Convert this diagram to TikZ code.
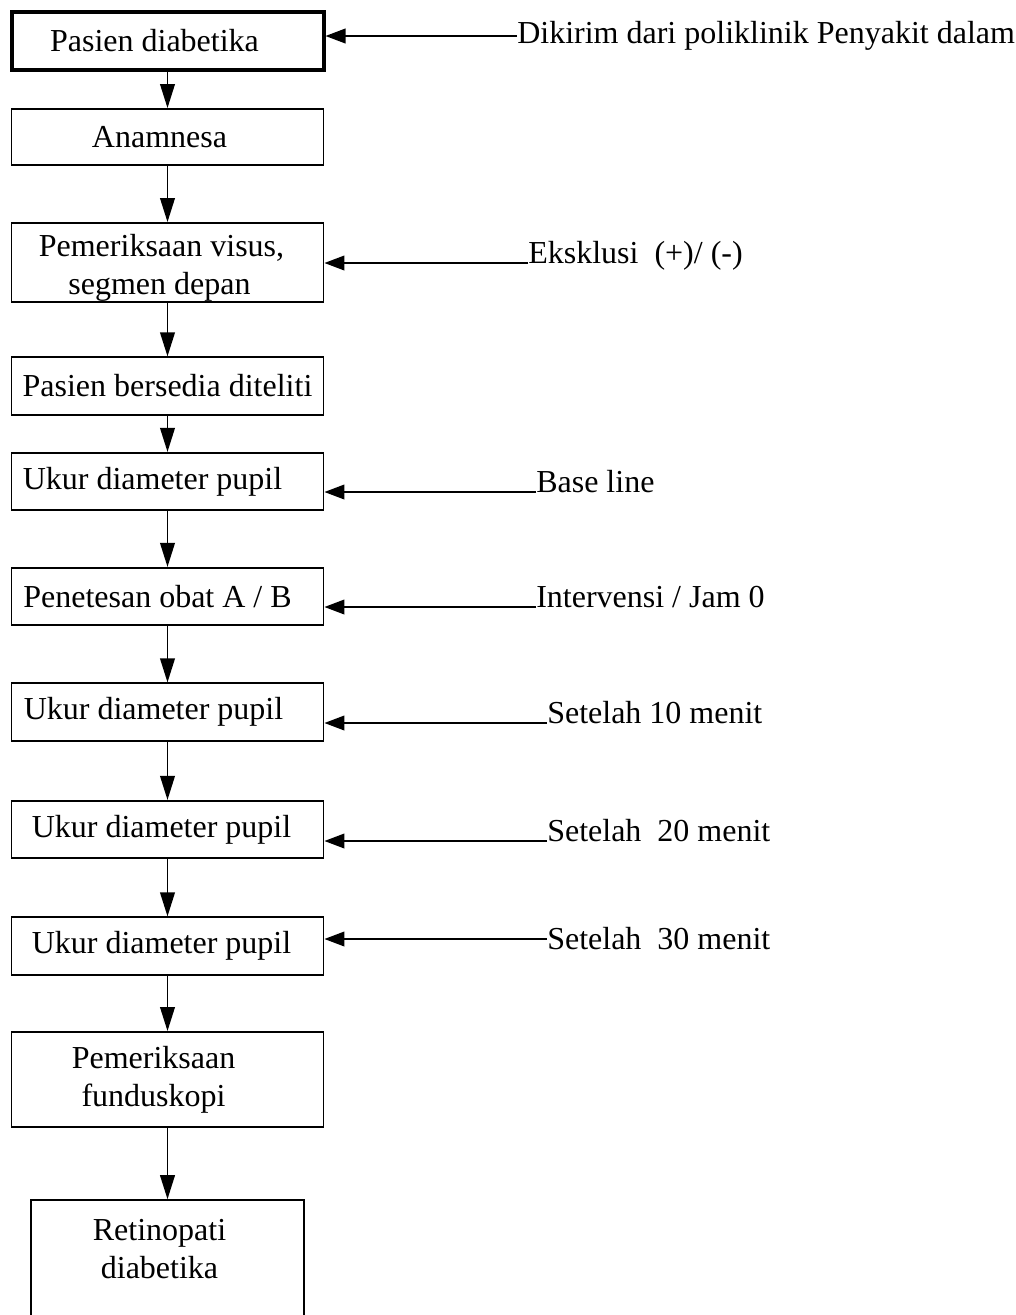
\documentclass[tikz,border=0pt]{standalone}
\usepackage{fontspec}
\setmainfont{Liberation Serif}
\usetikzlibrary{arrows.meta,positioning}

% text a little left of the box centre, as in the scan
\newcommand{\shl}[2]{\mbox{#2\hspace{#1}}}

\begin{document}
\begin{tikzpicture}[
  x=0.75pt, y=-0.75pt,
  box/.style={draw, line width=1.4pt, minimum width=234pt, minimum height=43pt,
              align=center, inner sep=2pt, font=\fontsize{24}{28.5}\selectfont},
  flow/.style={-{Triangle[length=18pt,width=11pt]}, line width=1.3pt},
  into/.style={-{Triangle[length=15pt,width=11pt]}, line width=1.3pt},
  lbl/.style={inner sep=0pt, font=\fontsize{24}{28.5}\selectfont}
]
\useasboundingbox (0,0) rectangle (1015,1315);

% === Main column ===
\node[box, line width=3pt] (b1) at (167.5,41) {\shl{19.5pt}{Pasien diabetika}};
\node[box, minimum height=42pt] (b2) at (167.5,137) {\shl{12pt}{Anamnesa}};
\node[box, minimum height=59.25pt, inner ysep=0pt] (b3) at (167.5,262.5)
  {\shl{9pt}{\rule{0pt}{24pt}Pemeriksaan visus,}\\\shl{12pt}{segmen depan}};
\node[box] (b4) at (167.5,386) {Pasien bersedia diteliti};
\node[box] (b5) at (167.5,481.5) {\shl{22.5pt}{Ukur diameter pupil}};
\node[box] (b6) at (167.5,596.5) {\shl{15pt}{Penetesan obat A / B}};
\node[box] (b7) at (167.5,712) {\shl{21pt}{Ukur diameter pupil}};
\node[box] (b8) at (167.5,829.5) {\shl{9pt}{Ukur diameter pupil}};
\node[box] (b9) at (167.5,946) {\shl{9pt}{Ukur diameter pupil}};
\node[box, minimum height=71.25pt] (b10) at (167.5,1079.5)
  {\shl{21pt}{Pemeriksaan}\\\shl{21pt}{funduskopi}};
\node[box, minimum width=204.75pt, minimum height=101pt] (b11) at (167.5,1267.5)
  {\shl{12pt}{Retinopati}\\\shl{12pt}{diabetika}\\~};

\foreach \a/\b in {b1/b2, b2/b3, b3/b4, b4/b5, b5/b6, b6/b7, b7/b8, b8/b9, b9/b10, b10/b11}
  \draw[flow] (\a) -- (\b);

% === Side notes ===
\node[lbl, anchor=west] (l1) at (517,36) {Dikirim dari poliklinik Penyakit dalam};
\node[lbl, anchor=base west] (l3) at (528,263) {Eksklusi\ \ (+)/ (-)};
\node[lbl, anchor=base west] (l5) at (536,492) {Base line};
\node[lbl, anchor=base west] (l6) at (536,607) {Intervensi / Jam 0};
\node[lbl, anchor=base west] (l7) at (547,723) {Setelah 10 menit};
\node[lbl, anchor=base west] (l8) at (547,841) {Setelah\ \ 20 menit};
\node[lbl, anchor=west] (l9) at (547,939) {Setelah\ \ 30 menit};

\draw[into] (l1.west) -- (l1.west -| b1.east);
\foreach \n in {3,5,6,7,8}
  \draw[into] (l\n.base west) -- (l\n.base west -| b\n.east);
\draw[into] (l9.west) -- (l9.west -| b9.east);

\end{tikzpicture}
\end{document}
